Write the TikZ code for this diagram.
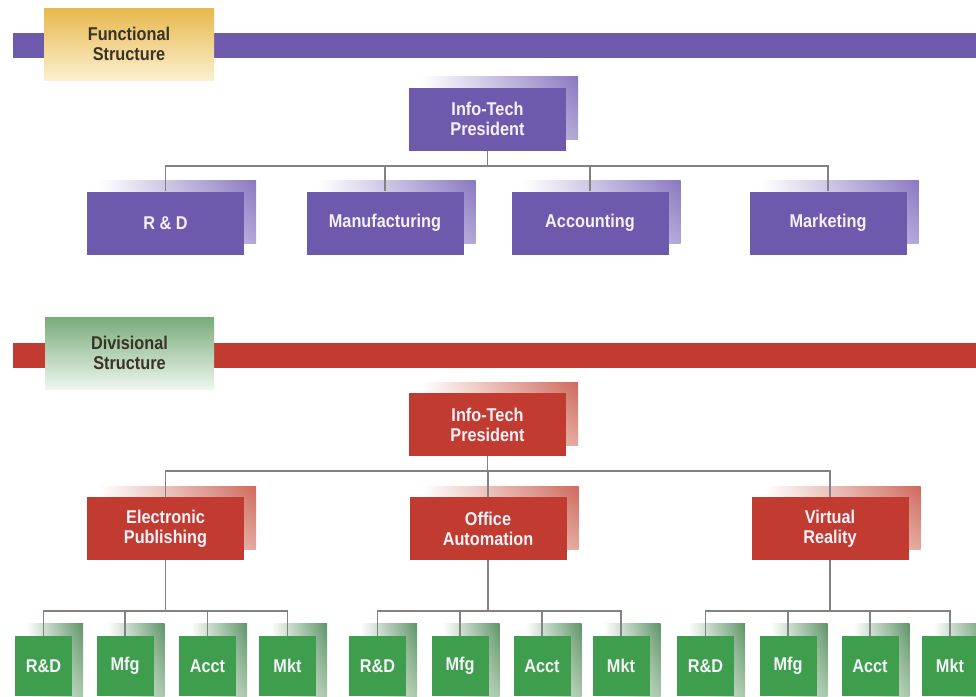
\documentclass[tikz,border=0pt]{standalone}
\usepackage{fontspec}
\setmainfont{Liberation Sans}[FakeStretch=0.88]
\usetikzlibrary{shadings}
\definecolor{purp}{HTML}{6E5AAC}
\definecolor{purpsh}{HTML}{8A78C0}
\definecolor{purpsh2}{HTML}{B2A6D8}
\definecolor{redb}{HTML}{C13B31}
\definecolor{redsh}{HTML}{CE6A5C}
\definecolor{redsh2}{HTML}{E4A89E}
\definecolor{grn}{HTML}{3F9E4E}
\definecolor{grnsh}{HTML}{5E9466}
\definecolor{grnsh2}{HTML}{A9C8AC}
\definecolor{gold1}{HTML}{E7B84C}
\definecolor{gold2}{HTML}{FCF0D0}
\definecolor{lgrn1}{HTML}{78AC7A}
\definecolor{lgrn2}{HTML}{EEF6EE}
\definecolor{conncol}{HTML}{828282}
\definecolor{boxtext}{HTML}{F4F2F8}
\definecolor{labtext}{HTML}{3A3326}
\begin{document}
\begin{tikzpicture}[x=1pt,y=-1pt,
  txt/.style={font=\fontsize{18.5pt}{20pt}\selectfont\bfseries, align=center},
  basebox/.style={txt, inner sep=0pt, text=boxtext},
  pur box/.style={basebox, fill=purp, minimum width=157pt, minimum height=63pt},
  pur sh/.style={inner sep=0pt, minimum width=157pt, minimum height=63pt,
    upper left=white, lower left=white, upper right=purpsh, lower right=purpsh2},
  red box/.style={basebox, fill=redb, minimum width=157pt, minimum height=63pt},
  red sh/.style={inner sep=0pt, minimum width=157pt, minimum height=63pt,
    upper left=white, lower left=white, upper right=redsh, lower right=redsh2},
  grn box/.style={basebox, fill=grn, minimum width=57pt, minimum height=60pt},
  grn sh/.style={inner sep=0pt, minimum width=57pt, minimum height=74pt,
    upper left=white, lower left=white, upper right=grnsh, lower right=grnsh2},
  labbox/.style={txt, inner sep=0pt, text=labtext, minimum width=170pt, minimum height=72pt},
  conn/.style={draw=conncol, line width=1.8pt},
]
\useasboundingbox (0,0) rectangle (976,696);
\clip (0,0) rectangle (976,696);

% a box with its shaded copy set up and to the right
\newcommand\shbox[5]{%
  \node[#1 sh] (#2-sh) at ({#3+12},{#4-11}) {};
  \node[#1 box] (#2) at (#3,#4) {#5};}

% ---------- functional structure ----------
\fill[purp] (13,33) rectangle (976,58);
\node[labbox, top color=gold1, bottom color=gold2] (flab) at (129,44) {Functional\\Structure};

\shbox{pur}{fpres}{487.5}{119}{Info-Tech\\President}
\shbox{pur}{frd}{165.5}{223}{R \& D}
\shbox{pur}{fmf}{385}{223}{Manufacturing}
\shbox{pur}{fac}{590}{223}{Accounting}
\shbox{pur}{fmk}{828}{223}{Marketing}

\coordinate (fj) at (0,166);
\draw[conn] (fpres.south) -- (fpres.south |- fj);
\draw[conn] (frd.north) -- (frd.north |- fj) -- (fmk.north |- fj) -- (fmk.north);
\draw[conn] (fmf.north) -- (fmf.north |- fj);
\draw[conn] (fac.north) -- (fac.north |- fj);

% ---------- divisional structure ----------
\fill[redb] (13,343) rectangle (976,368);
\node[labbox, minimum width=169pt, top color=lgrn1, bottom color=lgrn2] (dlab) at (129.5,353) {Divisional\\Structure};

\shbox{red}{dpres}{487.5}{424.5}{Info-Tech\\President}
\shbox{red}{dep}{165.5}{528.5}{Electronic\\Publishing}
\shbox{red}{doa}{488}{528.5}{Office\\Automation}
\shbox{red}{dvr}{830}{528.5}{Virtual\\Reality}

\coordinate (dj) at (0,471);
\draw[conn] (dpres.south) -- (dpres.south |- dj);
\draw[conn] (dep.north) -- (dep.north |- dj) -- (dvr.north |- dj) -- (dvr.north);
\draw[conn] (doa.north) -- (doa.north |- dj);

% department boxes under each division
\coordinate (gj) at (0,611);
\foreach \g/\xa/\xb/\xc/\xd in {dep/43.5/125/207.5/287.5, doa/377.5/460/542/621, dvr/705.5/788/870/950}{
  \node[grn sh] (\g-r-sh) at (\xa+11,660) {};
  \node[grn sh] (\g-f-sh) at (\xb+11,660) {};
  \node[grn sh] (\g-a-sh) at (\xc+11,660) {};
  \node[grn sh] (\g-m-sh) at (\xd+11,660) {};
  \node[grn box] (\g-r) at (\xa,666) {R\&D};
  \node[grn box] (\g-f) at (\xb,666) {Mfg};
  \node[grn box] (\g-a) at (\xc,666) {Acct};
  \node[grn box] (\g-m) at (\xd,666) {Mkt};
  \draw[conn] (\g.south) -- (\g.south |- gj);
  \draw[conn] (\g-r.north) -- (\g-r.north |- gj) -- (\g-m.north |- gj) -- (\g-m.north);
  \draw[conn] (\g-f.north) -- (\g-f.north |- gj);
  \draw[conn] (\g-a.north) -- (\g-a.north |- gj);
}
\end{tikzpicture}
\end{document}
